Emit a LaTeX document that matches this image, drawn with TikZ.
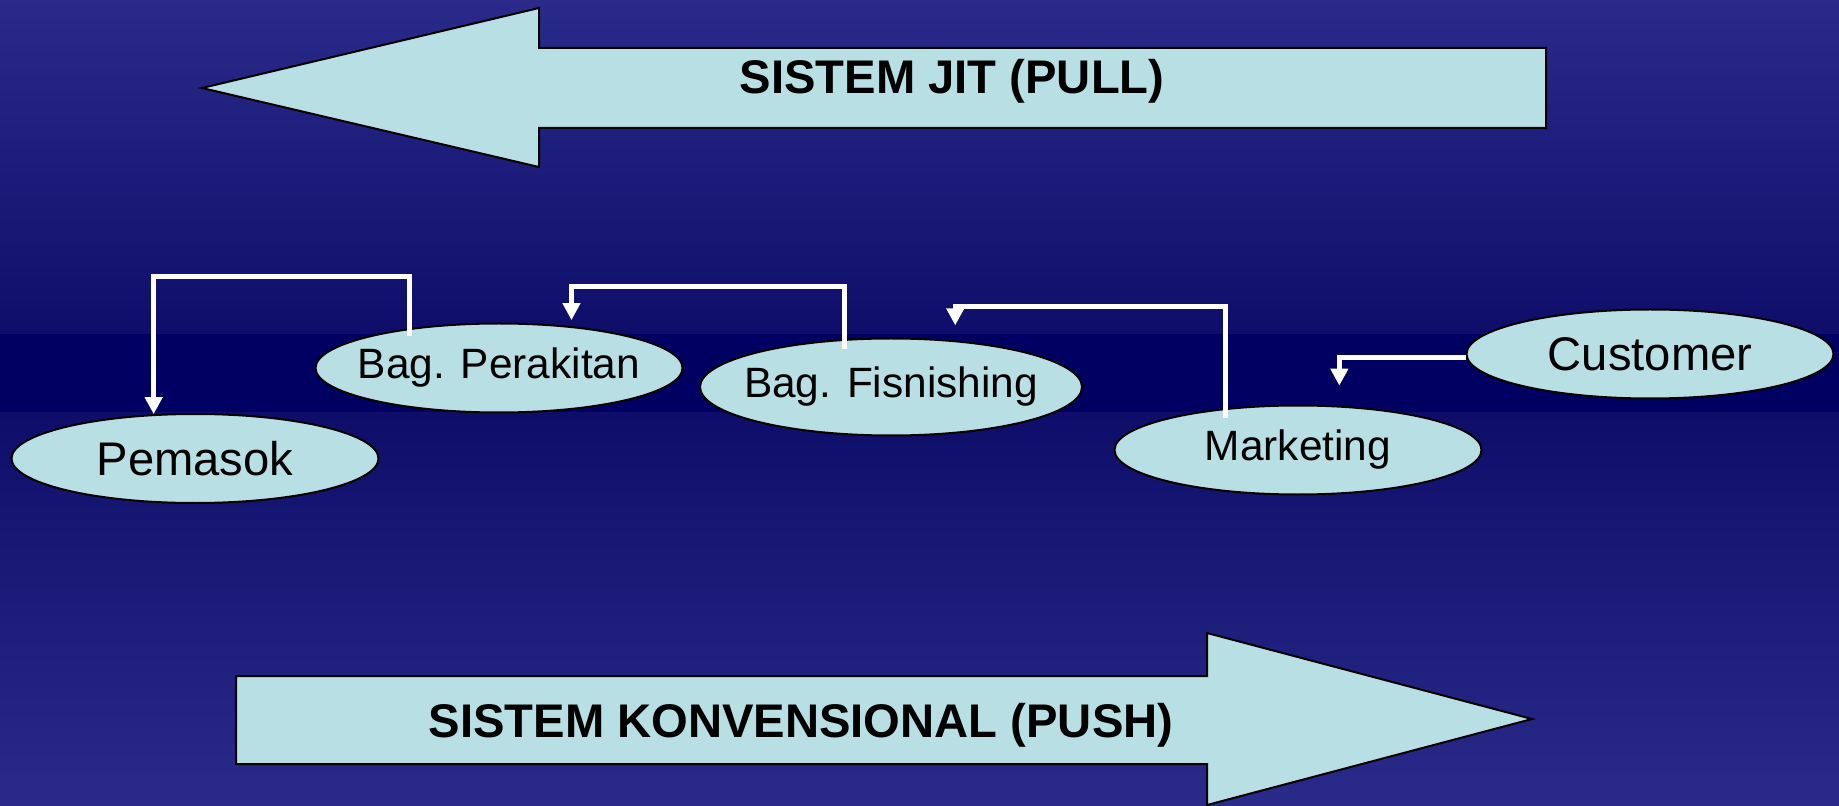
\documentclass[tikz,border=0pt]{standalone}
\usepackage{fontspec}
\setmainfont{Liberation Sans}
\usetikzlibrary{shapes.geometric,arrows.meta}
\definecolor{bgtop}{RGB}{42,42,138}
\definecolor{bgmid}{RGB}{14,14,106}
\definecolor{bgband}{RGB}{0,0,98}
\definecolor{stagefill}{RGB}{184,224,228}
\begin{document}
\begin{tikzpicture}
[x=0.5pt,y=-0.5pt,
 nodedecorate/.style={shape=ellipse,draw=black,line width=1pt,fill=stagefill,inner xsep=-20pt,inner ysep=0pt,%
   minimum width=183.5pt,minimum height=44.5pt,font=\fontsize{21.2}{24}\selectfont},
 bignodedecorate/.style={nodedecorate,font=\fontsize{23.6}{27}\selectfont},
 arrowdecorate/.style={draw=white,line width=2.5pt,-{Triangle[width=8.5pt,length=8.5pt]}},
 bigarrowdecorate/.style={draw=black,line width=1pt,fill=stagefill,line join=miter},
 titledecorate/.style={anchor=base,inner sep=0pt,font=\fontsize{23.6}{27}\selectfont\bfseries}]
% background
\useasboundingbox (0,0) rectangle (1839,806);
\shade[top color=bgtop,bottom color=bgmid] (0,0) rectangle (1839,334);
\fill[bgband] (0,334) rectangle (1839,413);
\shade[top color=bgmid,bottom color=bgtop] (0,413) rectangle (1839,806);
% big arrows
\draw[bigarrowdecorate] (202,88) -- (539,8) -- (539,48) -- (1546,48) -- (1546,128)
  -- (539,128) -- (539,167) -- cycle;
\node (jit) at (952,94) [titledecorate] {SISTEM JIT (PULL)};
\draw[bigarrowdecorate] (236,676) -- (1207,676) -- (1207,633) -- (1532,719)
  -- (1207,805) -- (1207,764) -- (236,764) -- cycle;
\node (push) at (801,737) [titledecorate] {SISTEM KONVENSIONAL (PUSH)};
% nodes or stages
\node (pemasok) at (195,458.5) [bignodedecorate] {Pemasok};
\node (perakitan) at (499,368) [nodedecorate] {Bag. Perakitan};
\node (fisnishing) at (891,387) [nodedecorate,minimum width=191pt,minimum height=48.5pt] {Bag. Fisnishing};
\node (marketing) at (1298,450) [nodedecorate] {Marketing};
\node (customer) at (1650,354) [bignodedecorate] {Customer};
% edges or lines
\draw[arrowdecorate,shorten <=-4pt] (perakitan.156) -- ++(0,-52) -| (pemasok.133);
\draw[arrowdecorate,shorten <=-5pt,shorten >=3pt] (fisnishing.134) -- ++(0,-52) -| (perakitan.30);
\draw[arrowdecorate,shorten <=-5pt,shorten >=7.5pt] (marketing.150) -- ++(0,-102) -| (fisnishing.36);
\draw[arrowdecorate,shorten >=10pt] (customer.181) -| (marketing.47);
\end{tikzpicture}
\end{document}
